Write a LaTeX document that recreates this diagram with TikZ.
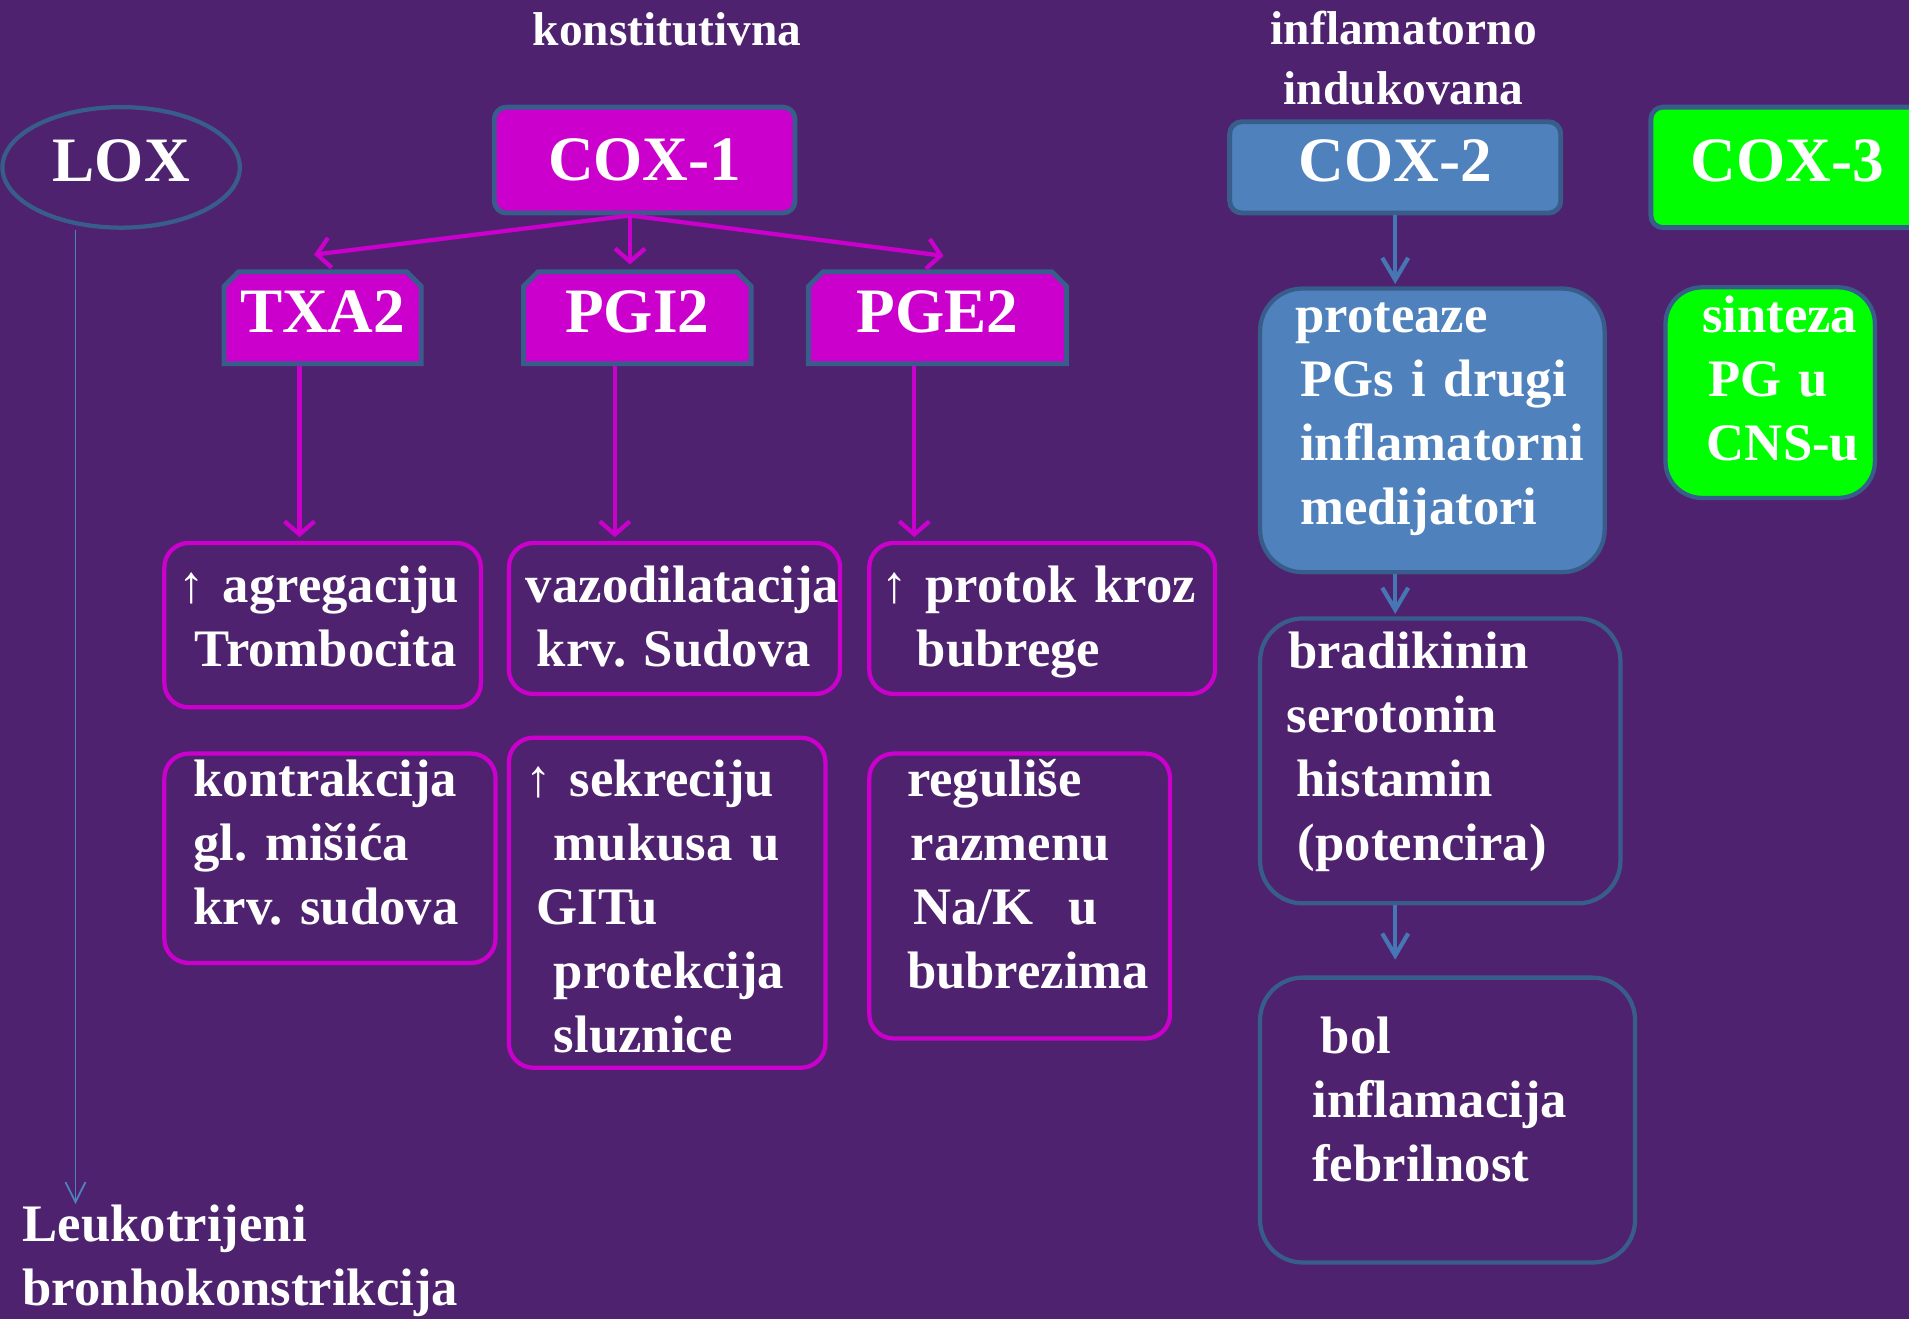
\documentclass[tikz,border=0pt]{standalone}
\usepackage{fontspec}
\setmainfont{Liberation Serif}
\usetikzlibrary{shapes.geometric,shapes.misc,arrows.meta,calc}
\newlength\pu
\setlength\pu{0.012175cm}
\definecolor{bgpurple}{RGB}{78,34,110}
\definecolor{magfill}{RGB}{204,0,204}
\definecolor{bordblue}{RGB}{56,93,138}
\definecolor{coxblue}{RGB}{79,129,189}
\definecolor{coxgreen}{RGB}{0,255,0}
\definecolor{arrblue}{RGB}{70,118,180}
\tikzset{
  big/.style={font=\bfseries\fontsize{18}{21.6}\selectfont, text=white},
  txt/.style={font=\bfseries\fontsize{15}{18.2}\selectfont\frenchspacing, text=white, align=left, inner xsep=0pt},
  head/.style={font=\bfseries\fontsize{13.5}{17}\selectfont, text=white, align=center},
  enzbox/.style={big, draw=bordblue, line width=4\pu, rounded corners=10\pu},
  prodbox/.style={big, chamfered rectangle, chamfered rectangle corners={north west,north east},
    chamfered rectangle xsep=6\pu, chamfered rectangle ysep=6\pu, draw=bordblue, line width=4\pu,
    fill=magfill, text depth=10\pu, inner xsep=0pt},
  magbox/.style={txt, draw=magfill, line width=3.5\pu, rounded corners=20\pu, text height=30\pu, inner ysep=0pt},
  bluebox/.style={txt, draw=bordblue, line width=3.5\pu, rounded corners=35\pu, text height=30\pu, inner ysep=0pt},
  magarrow/.style={draw=magfill, line width=3.5\pu, -{Straight Barb[length=0.13cm,width=0.3cm]}},
  bluearrow/.style={draw=arrblue, line width=3.5\pu, -{Straight Barb[length=0.22cm,width=0.26cm]}},
  loxarrow/.style={draw=coxblue, line width=1.5\pu, -{Straight Barb[length=0.2cm,width=0.2cm]}}
}
\begin{document}
\begin{tikzpicture}[x=\pu, y=-\pu]
\useasboundingbox (0,0) rectangle (1568,1083);
\clip (0,0) rectangle (1568,1083);
\fill[bgpurple] (0,0) rectangle (1568,1083);

\node[head] (konst) at (548,24) {konstitutivna};
\node[head] (infl) at (1153,48) {inflamatorno\\indukovana};

\node[big, ellipse, draw=bordblue, line width=3.5\pu, minimum width=195\pu, minimum height=99\pu, text depth=12\pu] (lox) at (99.5,137.5) {LOX};
\node[enzbox, fill=magfill, minimum width=247\pu, minimum height=87\pu] (cox1) at (529.5,131.5) {COX-1};
\node[enzbox, fill=coxblue, minimum width=272\pu, minimum height=75\pu, text depth=12\pu] (cox2) at (1146,137.5) {COX-2};
\node[enzbox, fill=coxgreen, minimum width=224\pu, minimum height=99\pu, text depth=12\pu] (cox3) at (1468,137.5) {COX-3};

\node[prodbox, minimum width=162\pu, minimum height=74\pu] (txa2) at (265,261) {TXA2};
\node[prodbox, minimum width=187\pu, minimum height=74\pu] (pgi2) at (523.5,261) {PGI2};
\node[prodbox, minimum width=212\pu, minimum height=74\pu] (pge2) at (770,261) {PGE2};

% efekti COX-1
\node[magbox, text width=260\pu, minimum height=135\pu, text depth=67\pu] (agr) at (265,513.5)
  {\hspace*{12\pu}↑ agregaciju\\\hspace*{25\pu}Trombocita};
\node[magbox, text width=272\pu, minimum height=124\pu, text depth=56\pu] (vazo) at (554,508)
  {\hspace*{14\pu}vazodilatacija\\\hspace*{23\pu}krv. Sudova};
\node[magbox, text width=284\pu, minimum height=124\pu, text depth=56\pu] (protok) at (856,508)
  {\hspace*{10\pu}↑ protok kroz\\\hspace*{39\pu}bubrege};
\node[magbox, text width=272\pu, minimum height=172\pu, text depth=132\pu] (kontr) at (271,705)
  {\hspace*{24\pu}kontrakcija\\\hspace*{24\pu}gl. mišića\\\hspace*{24\pu}krv. sudova};
\node[magbox, text width=260\pu, minimum height=271\pu, text depth=205\pu] (sekr) at (548,741.5)
  {\hspace*{14\pu}↑ sekreciju\\\hspace*{37\pu}mukusa u\\\hspace*{23\pu}GITu\\\hspace*{37\pu}protekcija\\\hspace*{37\pu}sluznice};
\node[magbox, text width=247\pu, minimum height=234\pu, text depth=194\pu] (regul) at (837.5,736)
  {\hspace*{31\pu}reguliše\\\hspace*{34\pu}razmenu\\\hspace*{36\pu}Na/K\ \ u\\\hspace*{31\pu}bubrezima};

% COX-2 i COX-3
\node[bluebox, fill=coxblue, text width=283\pu, minimum height=233\pu, text depth=191\pu] (prot) at (1176.5,353.5)
  {\hspace*{29\pu}proteaze\\\hspace*{33\pu}PGs i drugi\\\hspace*{33\pu}inflamatorni\\\hspace*{33\pu}medijatori};
\node[bluebox, text width=296\pu, minimum height=234\pu, text depth=182\pu] (bradi) at (1183,625)
  {\hspace*{23\pu}bradikinin\\\hspace*{22\pu}serotonin\\\hspace*{30\pu}histamin\\\hspace*{31\pu}(potencira)};
\node[bluebox, text width=308\pu, minimum height=234\pu, text depth=140\pu] (bol) at (1189,920)
  {\hspace*{50\pu}bol\\\hspace*{43\pu}inflamacija\\\hspace*{43\pu}febrilnost};
\node[bluebox, fill=coxgreen, rounded corners=30\pu, text width=172\pu, minimum height=173\pu, text depth=129\pu] (sint) at (1454,322.5)
  {\hspace*{30\pu}sinteza\\\hspace*{35\pu}PG u\\\hspace*{34\pu}CNS-u};

\node[txt, inner sep=0pt, anchor=north west] (leuko) at (18,989) {Leukotrijeni\\bronhokonstrikcija};

\draw[magarrow] ($(cox1.south)+(-12,0)$) -- ($(txa2.north)+(-7,-12)$);
\draw[magarrow] ($(cox1.south)+(-12,0)$) -- ($(pgi2.north)+(-6,-4)$);
\draw[magarrow] ($(cox1.south)+(-12,0)$) -- ($(pge2.north)+(5,-11)$);
\draw[magarrow] ($(txa2.south)+(-19,0)$) -- ($(agr.north)+(-19,-3)$);
\draw[magarrow] ($(pgi2.south)+(-18.5,0)$) -- ($(vazo.north)+(-49,-3)$);
\draw[magarrow] ($(pge2.south)+(-19,0)$) -- ($(protok.north)+(-105,-3)$);

\draw[bluearrow] (cox2.south) -- ($(prot.north)+(-30.5,-2)$);
\draw[bluearrow] ($(prot.south)+(-30.5,0)$) -- ($(bradi.north)+(-37,-2)$);
\draw[bluearrow] ($(bradi.south)+(-37,0)$) -- ($(bol.north)+(-43,-13)$);

\coordinate (loxfoot) at ($(lox.south)+(-37.5,0)$);
\draw[loxarrow] (loxfoot) -- (loxfoot |- leuko.north);
\end{tikzpicture}
\end{document}
